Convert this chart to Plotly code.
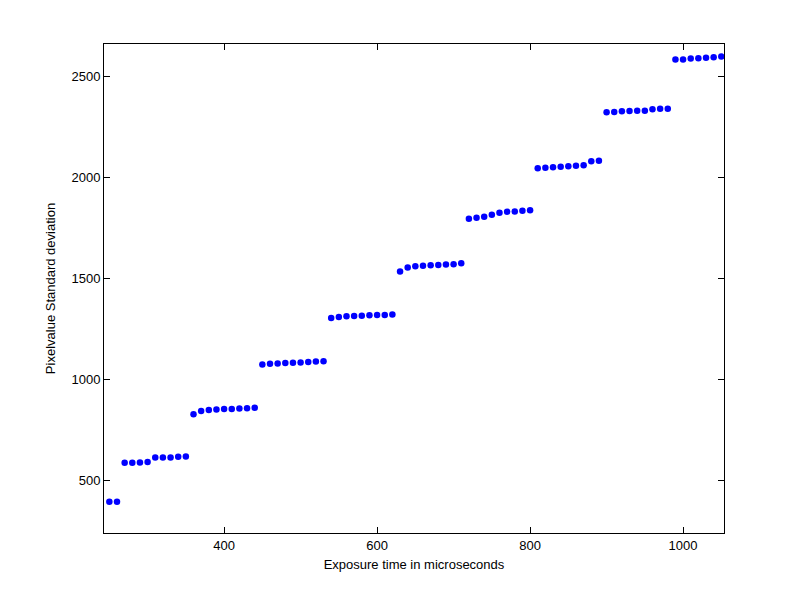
import plotly.graph_objects as go

# exposure times in microseconds, 10 us steps
exposure_us = list(range(250, 1051, 10))

# pixel value standard deviation
std_dev = [
    395, 396,
    589, 589, 590, 592, 614, 615, 615, 618, 620,
    828, 845, 850, 852, 854, 855, 857, 858, 860,
    1075, 1078, 1080, 1082, 1083, 1085, 1087, 1089, 1091,
    1305, 1310, 1313, 1315, 1316, 1318, 1319, 1320, 1322,
    1535, 1555, 1560, 1563, 1565, 1567, 1569, 1571, 1575,
    1795, 1800, 1805, 1815, 1825, 1830, 1832, 1835, 1838,
    2045, 2048, 2050, 2053, 2055, 2058, 2060, 2080, 2082,
    2322, 2324, 2327, 2329, 2330, 2330, 2337, 2340, 2340,
    2583, 2583, 2588, 2590, 2592, 2595, 2598,
]

x_ticks = [400, 600, 800, 1000]
y_ticks = [500, 1000, 1500, 2000, 2500]

fig = go.Figure()
fig.add_trace(go.Scatter(
    x=exposure_us, y=std_dev, mode="markers",
    marker=dict(color="#0000ff", size=6.5, line=dict(width=0)),
))

axis_style = dict(
    showgrid=False, zeroline=False, showline=True, linecolor="black",
    linewidth=1, mirror="ticks", ticks="inside", ticklen=6,
    tickcolor="black", tickfont=dict(size=13, color="black"),
)

fig.update_xaxes(range=[243, 1053.5], tickvals=x_ticks,
                 title=dict(text="Exposure time in microseconds",
                            font=dict(size=13, color="black"), standoff=8),
                 **axis_style)
fig.update_yaxes(range=[241, 2660], tickvals=y_ticks,
                 title=dict(text="Pixelvalue Standard deviation",
                            font=dict(size=13, color="black"), standoff=12),
                 **axis_style)

# the page body adds an 8px offset, so margins are shifted to compensate
fig.update_layout(
    width=800, height=601,
    margin=dict(l=96, r=84, t=36, b=76),
    plot_bgcolor="white", paper_bgcolor="white",
    font=dict(family="Liberation Sans, Arial, sans-serif"),
    showlegend=False,
)

fig.write_html("out.html")
